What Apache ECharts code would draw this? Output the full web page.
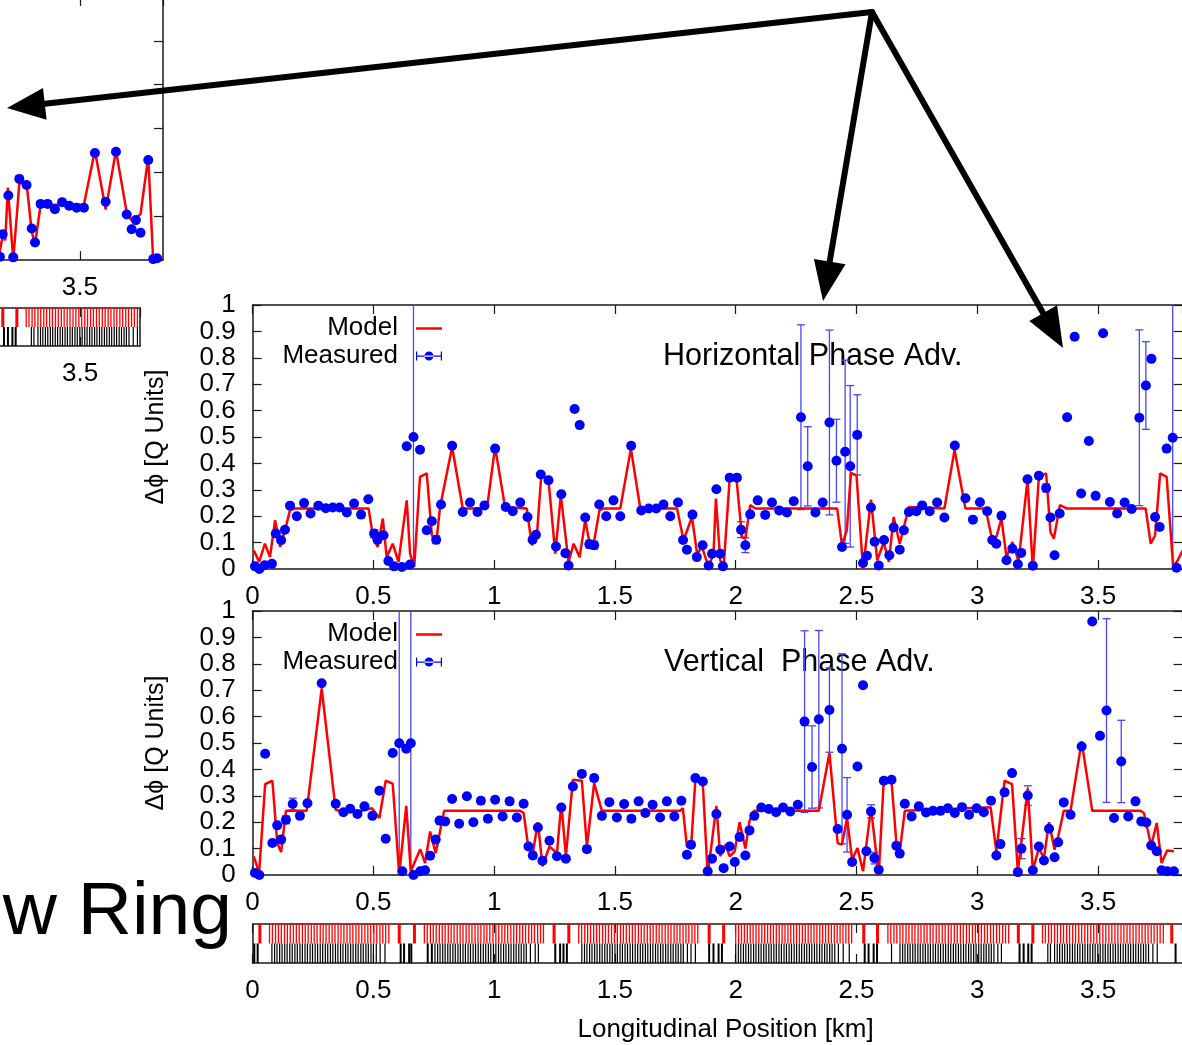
<!DOCTYPE html>
<html>
<head>
<meta charset="utf-8">
<script src="https://cdn.jsdelivr.net/npm/echarts@6/dist/echarts.min.js"></script>
<style>
  html, body { margin: 0; padding: 0; background: #fff; }
  #chart { width: 1182px; height: 1045px; }
</style>
</head>
<body>
<div id="chart"></div>
<script>
// ---- Phase advance between neighbouring BPMs, horizontal plane: [s (km), dphi (Q units)]
const hModel = [
  [0.005,0.070],[0.027,0.027],[0.051,0.096],[0.072,0.045],[0.093,0.185],[0.114,0.084],[0.134,0.147],
  [0.155,0.223],[0.176,0.229],[0.480,0.229],[0.500,0.115],[0.518,0.084],[0.539,0.191],[0.555,0.045],
  [0.580,0.096],[0.604,0.027],[0.638,0.260],[0.652,0.058],[0.669,0.008],[0.693,0.349],[0.721,0.362],
  [0.742,0.128],[0.760,0.096],[0.776,0.235],[0.826,0.462],[0.870,0.229],[0.970,0.229],[1.004,0.462],
  [1.045,0.235],[1.135,0.229],[1.156,0.090],[1.177,0.128],[1.195,0.355],[1.225,0.336],[1.253,0.058],
  [1.276,0.279],[1.308,0.027],[1.329,0.096],[1.354,0.045],[1.377,0.185],[1.398,0.084],[1.412,0.096],
  [1.436,0.223],[1.453,0.229],[1.522,0.229],[1.566,0.456],[1.605,0.229],[1.757,0.229],[1.784,0.109],
  [1.819,0.197],[1.840,0.058],[1.860,0.084],[1.888,0.008],[1.908,0.058],[1.918,0.267],[1.936,0.033],
  [1.950,0.008],[1.975,0.343],[2.003,0.343],[2.026,0.121],[2.040,0.115],[2.060,0.242],[2.081,0.229],
  [2.420,0.229],[2.440,0.090],[2.460,0.147],[2.477,0.364],[2.500,0.355],[2.527,0.000],[2.560,0.263],
  [2.586,0.033],[2.613,0.102],[2.634,0.027],[2.654,0.197],[2.679,0.096],[2.717,0.235],[2.864,0.229],
  [2.906,0.452],[2.951,0.229],[3.034,0.229],[3.062,0.110],[3.079,0.122],[3.100,0.191],[3.121,0.045],
  [3.145,0.102],[3.171,0.030],[3.208,0.337],[3.230,0.000],[3.255,0.349],[3.285,0.362],[3.303,0.140],
  [3.317,0.115],[3.342,0.242],[3.372,0.229],[3.697,0.229],[3.718,0.096],[3.736,0.127],[3.757,0.362],
  [3.784,0.349],[3.811,0.008],[3.828,0.030],[3.850,0.070]
];
// measured: [s (km), dphi, error]
const hMeasured = [
  [0.010,0.010,0],[0.028,0.000,0],[0.050,0.014,0],[0.080,0.020,0],[0.096,0.134,0],[0.118,0.109,0.010],
  [0.134,0.149,0],[0.155,0.240,0],[0.183,0.200,0],[0.213,0.250,0],[0.240,0.210,0],[0.272,0.240,0],
  [0.303,0.230,0],[0.332,0.233,0],[0.360,0.233,0],[0.390,0.214,0],[0.420,0.248,0],[0.449,0.206,0],
  [0.479,0.264,0],[0.503,0.134,0.015],[0.517,0.111,0.012],[0.542,0.128,0],[0.562,0.030,0],[0.586,0.010,0],
  [0.618,0.008,0],[0.652,0.017,0],[0.638,0.465,0],[0.666,0.500,0.600],[0.693,0.452,0],[0.721,0.147,0],
  [0.742,0.181,0],[0.760,0.111,0.015],[0.780,0.244,0],[0.826,0.467,0],[0.870,0.216,0],[0.900,0.252,0],
  [0.931,0.216,0],[0.960,0.241,0],[1.004,0.456,0.010],[1.048,0.235,0],[1.077,0.219,0],[1.108,0.252,0],
  [1.138,0.197,0],[1.159,0.111,0],[1.173,0.130,0],[1.193,0.358,0.008],[1.225,0.336,0],[1.256,0.085,0],
  [1.278,0.283,0],[1.295,0.060,0],[1.308,0.013,0],[1.333,0.606,0],[1.354,0.545,0],[1.377,0.195,0],
  [1.394,0.094,0.015],[1.414,0.090,0.015],[1.435,0.244,0],[1.464,0.200,0],[1.494,0.260,0],[1.522,0.200,0],
  [1.567,0.467,0],[1.609,0.222,0],[1.640,0.229,0],[1.671,0.229,0],[1.701,0.244,0],[1.729,0.200,0],
  [1.761,0.252,0],[1.782,0.110,0],[1.798,0.073,0],[1.821,0.206,0],[1.839,0.045,0],[1.863,0.090,0],
  [1.888,0.013,0],[1.902,0.058,0],[1.920,0.302,0],[1.936,0.058,0],[1.947,0.010,0],[1.975,0.346,0],
  [2.005,0.346,0],[2.022,0.149,0.030],[2.040,0.090,0.028],[2.060,0.207,0],[2.091,0.260,0],[2.122,0.205,0],
  [2.150,0.252,0],[2.180,0.222,0],[2.212,0.214,0],[2.240,0.257,0],[2.270,0.575,0.350],[2.298,0.389,0.150],
  [2.330,0.214,0],[2.360,0.252,0],[2.388,0.555,0.350],[2.417,0.410,0.157],[2.440,0.083,0],[2.453,0.444,0.347],
  [2.474,0.389,0.306],[2.503,0.508,0.152],[2.527,0.023,0],[2.543,0.050,0],[2.560,0.233,0],[2.575,0.103,0],
  [2.592,0.013,0],[2.614,0.110,0],[2.636,0.052,0],[2.654,0.157,0],[2.679,0.073,0],[2.696,0.147,0],
  [2.717,0.216,0],[2.748,0.219,0],[2.772,0.241,0],[2.803,0.219,0],[2.834,0.252,0],[2.864,0.195,0],
  [2.907,0.468,0],[2.951,0.268,0],[2.982,0.187,0],[3.011,0.253,0],[3.041,0.219,0],[3.062,0.110,0],
  [3.079,0.096,0],[3.100,0.202,0],[3.121,0.033,0],[3.145,0.077,0],[3.168,0.018,0],[3.182,0.061,0],
  [3.208,0.340,0],[3.230,0.012,0],[3.255,0.353,0],[3.285,0.307,0.015],[3.303,0.195,0],[3.320,0.052,0],
  [3.341,0.210,0],[3.372,0.575,0],[3.403,0.880,0],[3.430,0.286,0],[3.462,0.485,0],[3.490,0.277,0],
  [3.521,0.893,0],[3.549,0.254,0],[3.579,0.210,0],[3.610,0.252,0],[3.639,0.227,0],[3.671,0.573,0.333],
  [3.698,0.695,0.166],[3.721,0.796,0],[3.736,0.197,0],[3.755,0.159,0],[3.784,0.456,0],[3.809,0.497,0.600],
  [3.825,0.005,0]
];

// ---- Vertical plane
const vModel = [
  [0.005,0.071],[0.027,0.008],[0.052,0.344],[0.082,0.357],[0.102,0.121],[0.118,0.087],[0.138,0.243],
  [0.224,0.243],[0.286,0.707],[0.344,0.247],[0.376,0.240],[0.440,0.240],[0.494,0.253],[0.525,0.216],
  [0.551,0.357],[0.580,0.346],[0.607,0.001],[0.636,0.262],[0.655,0.014],[0.694,0.098],[0.714,0.045],
  [0.735,0.165],[0.758,0.083],[0.793,0.243],[1.108,0.243],[1.122,0.235],[1.142,0.102],[1.160,0.083],
  [1.181,0.200],[1.200,0.033],[1.229,0.108],[1.260,0.083],[1.278,0.272],[1.297,0.071],[1.326,0.361],
  [1.363,0.357],[1.384,0.108],[1.414,0.348],[1.446,0.243],[1.770,0.243],[1.781,0.253],[1.798,0.108],
  [1.815,0.102],[1.833,0.361],[1.864,0.342],[1.884,0.000],[1.920,0.262],[1.936,0.071],[1.957,0.115],
  [1.975,0.071],[1.996,0.090],[2.016,0.200],[2.040,0.100],[2.057,0.205],[2.077,0.243],[2.344,0.243],
  [2.388,0.462],[2.422,0.121],[2.440,0.115],[2.461,0.216],[2.482,0.058],[2.504,0.102],[2.527,0.014],
  [2.560,0.253],[2.592,0.000],[2.613,0.361],[2.645,0.354],[2.665,0.124],[2.679,0.090],[2.700,0.243],
  [3.055,0.257],[3.079,0.090],[3.113,0.357],[3.144,0.344],[3.168,0.014],[3.209,0.327],[3.230,0.018],
  [3.255,0.102],[3.276,0.064],[3.297,0.200],[3.320,0.096],[3.335,0.146],[3.358,0.243],[3.386,0.243],
  [3.432,0.506],[3.476,0.243],[3.676,0.243],[3.690,0.235],[3.720,0.111],[3.743,0.197],[3.763,0.045],
  [3.786,0.093],[3.814,0.090]
];
const vMeasured = [
  [0.010,0.008,0],[0.028,0.000,0],[0.052,0.459,0],[0.082,0.121,0],[0.102,0.188,0],[0.118,0.134,0],
  [0.138,0.209,0.015],[0.166,0.269,0.022],[0.196,0.224,0],[0.227,0.272,0],[0.286,0.726,0],[0.344,0.270,0],
  [0.376,0.238,0],[0.404,0.251,0],[0.434,0.231,0],[0.463,0.260,0],[0.496,0.224,0],[0.525,0.319,0],
  [0.551,0.137,0],[0.580,0.462,0],[0.607,0.499,0.600],[0.620,0.014,0],[0.636,0.478,0],[0.655,0.499,0.600],
  [0.666,0.000,0],[0.694,0.014,0],[0.714,0.018,0],[0.735,0.073,0],[0.758,0.134,0],[0.774,0.206,0],
  [0.797,0.203,0],[0.826,0.288,0],[0.855,0.194,0],[0.887,0.298,0],[0.914,0.200,0],[0.945,0.281,0.012],
  [0.974,0.213,0.012],[1.004,0.285,0],[1.035,0.222,0],[1.064,0.279,0.012],[1.094,0.218,0],[1.122,0.270,0],
  [1.142,0.108,0],[1.160,0.074,0.012],[1.181,0.180,0],[1.200,0.054,0],[1.229,0.130,0],[1.260,0.071,0],
  [1.278,0.256,0],[1.297,0.062,0],[1.326,0.335,0],[1.363,0.383,0],[1.384,0.098,0.012],[1.414,0.367,0.012],
  [1.446,0.224,0],[1.477,0.276,0],[1.508,0.218,0],[1.538,0.269,0],[1.568,0.213,0.012],[1.598,0.279,0],
  [1.626,0.235,0],[1.656,0.266,0],[1.687,0.218,0],[1.715,0.279,0],[1.746,0.222,0],[1.775,0.281,0],
  [1.798,0.077,0],[1.815,0.115,0],[1.833,0.367,0],[1.864,0.354,0],[1.884,0.014,0],[1.902,0.062,0],
  [1.920,0.231,0],[1.936,0.096,0],[1.950,0.026,0],[1.975,0.108,0],[1.996,0.049,0],[2.016,0.144,0],
  [2.040,0.074,0],[2.057,0.169,0],[2.077,0.224,0],[2.106,0.256,0],[2.137,0.250,0],[2.167,0.238,0],
  [2.196,0.256,0],[2.226,0.241,0],[2.257,0.266,0],[2.285,0.581,0.344],[2.316,0.409,0.156],[2.344,0.590,0.336],
  [2.388,0.625,0.160],[2.422,0.174,0],[2.440,0.478,0.360],[2.461,0.228,0.141],[2.482,0.049,0],[2.504,0.411,0],
  [2.527,0.719,0],[2.541,0.090,0],[2.560,0.241,0.025],[2.574,0.064,0.022],[2.592,0.020,0],[2.613,0.357,0],
  [2.645,0.361,0],[2.665,0.111,0],[2.679,0.081,0],[2.700,0.270,0],[2.728,0.222,0],[2.758,0.260,0],
  [2.788,0.237,0],[2.817,0.243,0],[2.848,0.243,0],[2.878,0.253,0],[2.907,0.235,0],[2.937,0.257,0],
  [2.966,0.228,0],[2.997,0.253,0],[3.027,0.238,0],[3.057,0.281,0],[3.079,0.074,0],[3.096,0.117,0],
  [3.113,0.313,0],[3.144,0.386,0],[3.168,0.011,0],[3.183,0.100,0.038],[3.209,0.301,0.037],[3.230,0.018,0],
  [3.255,0.108,0],[3.276,0.055,0],[3.297,0.175,0],[3.320,0.067,0],[3.335,0.124,0],[3.358,0.275,0],
  [3.386,0.228,0],[3.432,0.487,0],[3.476,0.960,0],[3.508,0.527,0],[3.535,0.623,0.348],[3.566,0.216,0],
  [3.596,0.430,0.156],[3.625,0.222,0],[3.655,0.279,0],[3.679,0.203,0],[3.700,0.199,0],[3.720,0.112,0],
  [3.743,0.090,0],[3.763,0.018,0],[3.786,0.014,0],[3.814,0.014,0]
];

// ---- Small preceding plot (end of ring only)
const miniModel = [
  [3.150,0.0],[3.170,5.5],[3.181,4.5],[3.192,16.5],[3.215,0.0],[3.241,17.5],[3.272,17.5],[3.294,6.5],
  [3.308,3.5],[3.332,12.6],[3.517,12.6],[3.564,25.0],[3.610,11.5],[3.654,25.0],[3.700,10.8],[3.721,9.0],
  [3.739,9.5],[3.759,10.5],[3.792,23.5],[3.813,0.0],[3.835,0.0]
];
const miniMeasured = [
  [3.158,0.75],[3.170,5.9],[3.194,14.7],[3.215,0.6],[3.241,18.5],[3.272,17.1],[3.294,7.2],[3.308,4.0],
  [3.332,12.8],[3.362,12.8],[3.393,11.6],[3.424,13.2],[3.454,12.4],[3.486,11.9],[3.517,11.9],[3.564,24.4],
  [3.610,13.3],[3.654,24.7],[3.700,10.4],[3.721,7.0],[3.739,9.1],[3.759,6.2],[3.792,22.8],[3.813,0.2],
  [3.830,0.4]
];

// ---- Lattice: element positions along the ring (km)
const latticeRedThick = [0.030,0.607,0.670,1.248,1.309,1.890,1.950,2.530,2.587,3.170,3.230,3.805];
const latticeRedThin = [
  0.070,0.082,0.095,0.107,0.119,0.132,0.144,0.156,0.169,0.181,0.193,0.206,0.218,0.230,0.243,0.255,0.267,
  0.280,0.292,0.304,0.317,0.329,0.341,0.354,0.366,0.378,0.391,0.403,0.415,0.428,0.440,0.452,0.465,0.477,
  0.489,0.502,0.514,0.527,0.539,0.551,0.564,
  0.711,0.723,0.736,0.748,0.760,0.773,0.785,0.797,0.810,0.822,0.834,0.847,0.859,0.871,0.884,0.896,0.908,
  0.921,0.933,0.945,0.958,0.970,0.982,0.995,1.007,1.019,1.032,1.044,1.056,1.069,1.081,1.093,1.106,1.118,
  1.130,1.143,1.155,1.167,1.180,1.192,1.204,
  1.350,1.362,1.375,1.387,1.399,1.412,1.424,1.436,1.449,1.461,1.473,1.486,1.498,1.510,1.523,1.535,1.547,
  1.560,1.572,1.584,1.597,1.609,1.621,1.634,1.646,1.658,1.671,1.683,1.695,1.708,1.720,1.732,1.745,1.757,
  1.769,1.782,1.794,1.806,1.819,1.831,1.843,
  2.000,2.012,2.024,2.036,2.048,2.060,2.072,2.084,2.096,2.108,2.120,2.132,2.144,2.156,2.168,2.180,2.192,
  2.204,2.216,2.228,2.240,2.252,2.264,2.276,2.288,2.300,2.312,2.324,2.336,2.348,2.360,2.372,2.384,2.396,
  2.408,2.420,2.432,2.444,2.456,2.468,2.480,
  2.630,2.642,2.655,2.667,2.680,2.692,2.705,2.717,2.730,2.742,2.755,2.767,2.780,2.792,2.805,2.817,2.830,
  2.842,2.855,2.867,2.880,2.892,2.905,2.917,2.930,2.942,2.955,2.967,2.980,2.992,3.005,3.017,3.030,3.042,
  3.055,3.067,3.080,3.092,3.105,3.117,3.130,
  3.270,3.282,3.295,3.307,3.320,3.332,3.345,3.357,3.370,3.382,3.395,3.407,3.420,3.432,3.445,3.457,3.470,
  3.482,3.495,3.507,3.520,3.532,3.545,3.557,3.570,3.582,3.595,3.607,3.620,3.632,3.645,3.657,3.670,3.682,
  3.695,3.707,3.720,3.732,3.745,3.757,3.770
];
const latticeBlackThick = [
  0.007,0.021,0.613,0.627,0.648,0.657,0.725,0.742,1.253,1.273,1.287,1.301,1.890,1.908,1.929,1.943,
  2.534,2.550,2.571,2.585,3.175,3.192,3.211,3.225,3.821
];
const latticeBlackThin = [
  0.080,0.091,0.101,0.112,0.122,0.133,0.143,0.154,0.164,0.175,0.185,0.196,0.206,0.217,0.227,0.238,0.248,
  0.259,0.269,0.280,0.290,0.301,0.311,0.322,0.332,0.343,0.353,0.364,0.374,0.385,0.395,0.406,0.416,0.427,
  0.437,0.448,0.458,0.469,0.479,0.490,0.500,0.512,0.528,0.548,
  0.755,0.766,0.776,0.787,0.797,0.808,0.818,0.829,0.839,0.850,0.860,0.871,0.881,0.892,0.902,0.913,0.923,
  0.934,0.944,0.955,0.965,0.976,0.986,0.997,1.007,1.018,1.028,1.039,1.049,1.060,1.070,1.081,1.091,1.102,
  1.112,1.123,1.133,1.150,1.170,1.183,
  1.363,1.374,1.384,1.395,1.405,1.416,1.426,1.437,1.447,1.458,1.468,1.479,1.489,1.500,1.510,1.521,1.531,
  1.542,1.552,1.563,1.573,1.584,1.594,1.605,1.615,1.626,1.636,1.647,1.657,1.668,1.678,1.689,1.699,1.710,
  1.720,1.731,1.741,1.752,1.762,1.773,1.783,1.800,1.815,1.833,
  2.000,2.011,2.021,2.032,2.042,2.053,2.063,2.074,2.084,2.095,2.105,2.116,2.126,2.137,2.147,2.158,2.168,
  2.179,2.189,2.200,2.210,2.221,2.231,2.242,2.252,2.263,2.273,2.284,2.294,2.305,2.315,2.326,2.336,2.347,
  2.357,2.368,2.378,2.389,2.399,2.410,2.425,2.445,2.470,
  2.645,2.680,2.691,2.701,2.712,2.722,2.733,2.743,2.754,2.764,2.775,2.785,2.796,2.806,2.817,2.827,2.838,
  2.848,2.859,2.869,2.880,2.890,2.901,2.911,2.922,2.932,2.943,2.953,2.964,2.974,2.985,2.995,3.006,3.016,
  3.027,3.037,3.048,3.058,3.069,3.085,3.100,
  3.292,3.303,3.320,3.331,3.341,3.352,3.362,3.373,3.383,3.394,3.404,3.415,3.425,3.436,3.446,3.457,3.467,
  3.478,3.488,3.499,3.509,3.520,3.530,3.541,3.551,3.562,3.572,3.583,3.593,3.604,3.614,3.625,3.635,3.646,
  3.656,3.667,3.677,3.688,3.698,3.709,3.727,3.745
];

// ---------------------------------------------------------------------------
const FONT = '"Liberation Sans", Arial, sans-serif';
const INK = '#1a1a1a';
const RED = '#ff0000';
const BLUE = '#0000ff';
const ERR_BLUE = '#4646ff';
const X_MAX = 3.85;

function xAxisOf(grid, pos, withLabels, extra) {
  return Object.assign({
    type: 'value', gridIndex: grid, position: pos, min: 0, max: X_MAX, interval: 0.5,
    axisLine: { show: true, onZero: false, lineStyle: { color: INK, width: 1.5 } },
    axisTick: { show: true, inside: true, length: 9, lineStyle: { color: INK, width: 1.2 } },
    axisLabel: { show: withLabels, margin: 15, fontSize: 26, color: '#000', fontFamily: FONT, showMaxLabel: false },
    splitLine: { show: false }
  }, extra || {});
}
function yAxisOf(grid, pos, withLabels, extra) {
  return Object.assign({
    type: 'value', gridIndex: grid, position: pos, min: 0, max: 1, interval: 0.1,
    axisLine: { show: true, onZero: false, lineStyle: { color: INK, width: 1.5 } },
    axisTick: { show: true, inside: true, length: 9, lineStyle: { color: INK, width: 1.2 } },
    axisLabel: { show: withLabels, margin: 17, fontSize: 26, color: '#000', fontFamily: FONT },
    splitLine: { show: false }
  }, extra || {});
}
const phaseName = {
  name: 'Δϕ [Q Units]', nameLocation: 'middle', nameGap: 84, nameRotate: 90,
  nameTextStyle: { fontSize: 25, color: '#000', fontFamily: FONT }
};
const plainY = {
  min: 0, max: 2, interval: 1,
  axisTick: { show: false }, axisLabel: { show: false }
};

// error bars with caps, drawn through the axis scales
function errorBars(xi, yi, rows) {
  return {
    type: 'custom', xAxisIndex: xi, yAxisIndex: yi, clip: true, silent: true, z: 2,
    data: rows, encode: { x: 0, y: 1 },
    renderItem: function (params, api) {
      const x = api.value(0), y = api.value(1), e = api.value(2);
      if (!e) return null;
      const hi = api.coord([x, y + e]);
      const lo = api.coord([x, y - e]);
      const cap = 4;
      const st = { stroke: ERR_BLUE, lineWidth: 1.3 };
      return {
        type: 'group', children: [
          { type: 'line', shape: { x1: hi[0], y1: hi[1], x2: lo[0], y2: lo[1] }, style: st },
          { type: 'line', shape: { x1: hi[0] - cap, y1: hi[1], x2: hi[0] + cap, y2: hi[1] }, style: st },
          { type: 'line', shape: { x1: lo[0] - cap, y1: lo[1], x2: lo[0] + cap, y2: lo[1] }, style: st }
        ]
      };
    }
  };
}
// one lattice band: thin vertical marks between y=lo and y=hi
function latticeMarks(xi, yi, positions, lo, hi, width, color) {
  return {
    type: 'custom', xAxisIndex: xi, yAxisIndex: yi, clip: true, silent: true, z: 2,
    data: positions.map(function (p) { return [p, lo]; }), encode: { x: 0, y: 1 },
    renderItem: function (params, api) {
      const s = api.value(0);
      const a = api.coord([s, hi]);
      const b = api.coord([s, lo]);
      return { type: 'rect', shape: { x: a[0] - width / 2, y: a[1], width: width, height: b[1] - a[1] },
               style: { fill: color } };
    }
  };
}
function modelLine(xi, yi, rows) {
  return { type: 'line', name: 'Model', xAxisIndex: xi, yAxisIndex: yi, data: rows, symbol: 'none',
           lineStyle: { color: RED, width: 2.5 }, itemStyle: { color: RED }, z: 3, silent: true, animation: false };
}
function measuredDots(xi, yi, rows) {
  return { type: 'scatter', name: 'Measured', xAxisIndex: xi, yAxisIndex: yi, data: rows, symbol: 'circle',
           symbolSize: 10, itemStyle: { color: BLUE, opacity: 1 }, z: 4, silent: true, animation: false };
}

// legend keys: a plain red line, and a dot with a horizontal error bar
const modelIcon = 'path://M0,0L0,9L0,0z M0,3.7h26v2.6h-26z';
const measuredIcon = 'path://M0,0h1.2v9h-1.2z M24.8,0h1.2v9h-1.2z M0,4h26v1.2h-26z ' +
                     'M8.5,4.5a4.5,4.5 0 1,0 9,0a4.5,4.5 0 1,0 -9,0z';
function panelLegend(top) {
  return {
    orient: 'vertical', align: 'right', right: 740, top: top, padding: 0, itemGap: 2,
    itemWidth: 26, itemHeight: 9, selectedMode: false,
    textStyle: { fontSize: 26, color: '#000', fontFamily: FONT, padding: [0, 13, 0, 0] },
    data: [
      { name: 'Model', icon: modelIcon, itemStyle: { color: RED } },
      { name: 'Measured', icon: measuredIcon, itemStyle: { color: BLUE } }
    ]
  };
}

const gridBase = { containLabel: false, outerBoundsMode: 'none' };
const titleText = { fontSize: 30.5, fontWeight: 'normal', color: '#000', fontFamily: FONT };

const option = {
  backgroundColor: '#ffffff',
  animation: false,
  textStyle: { fontFamily: FONT },
  title: [
    { text: 'Horizontal Phase Adv.', left: 663, top: 341, padding: 0, z: 0, textStyle: titleText },
    { text: 'Vertical  Phase Adv.', left: 664, top: 647, padding: 0, z: 0, textStyle: titleText }
  ],
  legend: [panelLegend(315), panelLegend(621)],
  grid: [
    Object.assign({ left: 252.6, top: 305, width: 930, height: 264 }, gridBase),   // horizontal
    Object.assign({ left: 252.6, top: 611, width: 930, height: 264 }, gridBase),   // vertical
    Object.assign({ left: 252.6, top: 924, width: 930, height: 39 }, gridBase),    // lattice
    Object.assign({ left: -37.07, top: -3, width: 200.07, height: 263 }, gridBase), // small plot
    Object.assign({ left: -37, top: 308, width: 177, height: 38 }, gridBase)       // small lattice
  ],
  xAxis: [
    xAxisOf(0, 'bottom', true),
    xAxisOf(0, 'top', false),
    xAxisOf(1, 'bottom', true),
    xAxisOf(1, 'top', false),
    xAxisOf(2, 'bottom', true, {
      name: 'Longitudinal Position [km]', nameLocation: 'middle', nameGap: 54,
      nameTextStyle: { fontSize: 26, color: '#000', fontFamily: FONT, padding: [0, 0, 0, 16] }
    }),
    xAxisOf(2, 'top', false),
    xAxisOf(3, 'bottom', true, { min: 3.0, max: 3.855 }),
    xAxisOf(3, 'top', false, { min: 3.0, max: 3.855 }),
    xAxisOf(4, 'bottom', true, { min: 3.0, max: 3.756 }),
    xAxisOf(4, 'top', false, { min: 3.0, max: 3.756 })
  ],
  yAxis: [
    yAxisOf(0, 'left', true, phaseName),
    yAxisOf(0, 'right', false),
    yAxisOf(1, 'left', true, phaseName),
    yAxisOf(1, 'right', false),
    yAxisOf(2, 'left', false, plainY),
    yAxisOf(2, 'right', false, plainY),
    yAxisOf(3, 'right', false, { min: 0, max: 60, interval: 10 }),
    yAxisOf(4, 'left', false, plainY),
    yAxisOf(4, 'right', false, plainY)
  ],
  series: [
    errorBars(0, 0, hMeasured),
    modelLine(0, 0, hModel),
    measuredDots(0, 0, hMeasured),

    errorBars(2, 2, vMeasured),
    modelLine(2, 2, vModel),
    measuredDots(2, 2, vMeasured),

    latticeMarks(4, 4, latticeRedThin, 1, 2, 1.3, RED),
    latticeMarks(4, 4, latticeRedThick, 1, 2, 3, RED),
    latticeMarks(4, 4, latticeBlackThin, 0, 1, 1.2, '#000'),
    latticeMarks(4, 4, latticeBlackThick, 0, 1, 2, '#000'),

    modelLine(6, 6, miniModel),
    measuredDots(6, 6, miniMeasured),

    latticeMarks(8, 7, latticeRedThin, 1, 2, 1.3, RED),
    latticeMarks(8, 7, latticeRedThick, 1, 2, 3, RED),
    latticeMarks(8, 7, latticeBlackThin, 0, 1, 1.2, '#000'),
    latticeMarks(8, 7, latticeBlackThick, 0, 1, 2, '#000')
  ],
  graphic: [
    // slide heading fragment
    { type: 'text', x: 232, y: 913, z: 50,
      style: { text: 'w Ring', font: '75px "Liberation Sans", Arial, sans-serif', fill: '#000',
               align: 'right', verticalAlign: 'middle' } },
    // pointer arrows
    { type: 'line', z: 100, shape: { x1: 872, y1: 12, x2: 44.8, y2: 103.8 },
      style: { stroke: '#000', lineWidth: 6, lineCap: 'round' } },
    { type: 'polygon', z: 100, shape: { points: [[7, 108], [46.6, 119.7], [43.0, 87.9]] }, style: { fill: '#000' } },
    { type: 'line', z: 100, shape: { x1: 872, y1: 12, x2: 829.7, y2: 261.6 },
      style: { stroke: '#000', lineWidth: 6, lineCap: 'round' } },
    { type: 'polygon', z: 100, shape: { points: [[823, 301], [845.5, 264.3], [813.9, 258.9]] }, style: { fill: '#000' } },
    { type: 'line', z: 100, shape: { x1: 872, y1: 12, x2: 1043.2, y2: 313.2 },
      style: { stroke: '#000', lineWidth: 6, lineCap: 'round' } },
    { type: 'polygon', z: 100, shape: { points: [[1063, 348], [1057.1, 305.3], [1029.3, 321.1]] }, style: { fill: '#000' } }
  ]
};

const chart = echarts.init(document.getElementById('chart'), null, { renderer: 'canvas' });
chart.setOption(option);
</script>
</body>
</html>
